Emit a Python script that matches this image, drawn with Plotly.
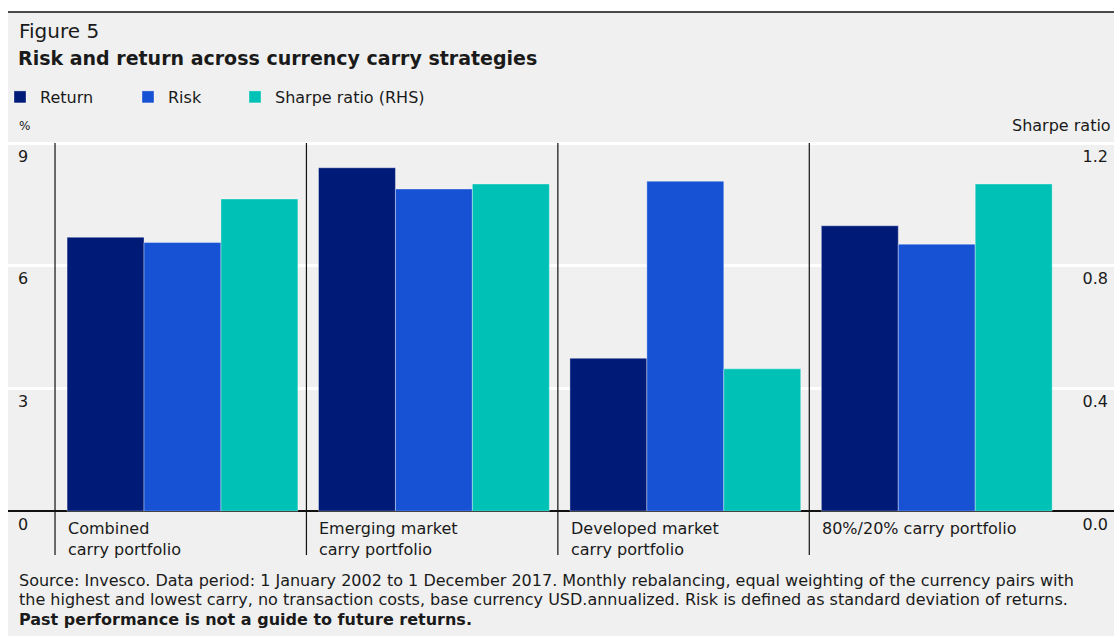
import plotly.graph_objects as go

categories = ["Combined<br>carry portfolio", "Emerging market<br>carry portfolio",
              "Developed market<br>carry portfolio", "80%/20% carry portfolio"]
return_pct = [6.70, 8.40, 3.74, 6.98]
risk_pct = [6.57, 7.88, 8.07, 6.53]
sharpe = [1.018, 1.067, 0.464, 1.067]
left_ticks = [0, 3, 6, 9]
right_ticks = [0.0, 0.4, 0.8, 1.2]
footnote = [
    "Source: Invesco. Data period: 1 January 2002 to 1 December 2017. Monthly rebalancing, equal weighting of the currency pairs with",
    "the highest and lowest carry, no transaction costs, base currency USD.annualized. Risk is defined as standard deviation of returns.",
    "<b>Past performance is not a guide to future returns.</b>",
]

W, H = 1114, 636
L, R, T, B = 8, 0, 142, 84
PW, PH = W - L - R, H - T - B
FONT = "DejaVu Sans"
TXT = "#1a1a1a"
YMIN, YMAX = -1.0, 9.03

def px(x):
    return (x - L) / PW

def py(y):
    return (H - B - y) / PH

xpos = list(range(len(categories)))
bw = 0.306
edge = dict(width=0.8, color="rgba(255,255,255,0.45)")
fig = go.Figure()
fig.add_bar(x=xpos, y=return_pct, name="Return", marker_color="#001a78",
            width=bw, offset=-0.452, marker_line=edge, legend="legend")
fig.add_bar(x=xpos, y=risk_pct, name="Risk", marker_color="#1652d3",
            width=bw, offset=-0.146, marker_line=edge, legend="legend2")
fig.add_bar(x=xpos, y=sharpe, name="Sharpe ratio (RHS)", marker_color="#00c1b5",
            width=bw, offset=0.160, yaxis="y2", marker_line=edge, legend="legend3")

shapes = [
    dict(type="rect", xref="paper", yref="paper", x0=0, x1=1, y0=py(H), y1=py(12),
         fillcolor="#f0f0f0", line_width=0, layer="below"),
    dict(type="line", xref="paper", yref="paper", x0=0, x1=1, y0=py(12), y1=py(12),
         line=dict(color="#111", width=1.5)),
]
for i in range(len(categories)):
    shapes.append(dict(type="line", xref="x", yref="paper", x0=i - 0.5, x1=i - 0.5,
                       y0=py(555), y1=py(143), line=dict(color="#111", width=1.2)))

ann = [
    dict(text="Figure 5", x=px(17), y=py(31), font=dict(size=20, color=TXT)),
    dict(text="<b>Risk and return across currency carry strategies</b>", x=px(16), y=py(58),
         font=dict(size=19, color=TXT)),
    dict(text="%", x=px(17), y=py(126), font=dict(size=12, color=TXT)),
    dict(text="Sharpe ratio", x=px(1113), y=py(126), xanchor="right", font=dict(size=16, color=TXT)),
]
for k, line in enumerate(footnote):
    ann.append(dict(text=line, x=px(17), y=py(580 + 19.5 * k), font=dict(size=16, color=TXT)))
for a in ann:
    a.setdefault("xref", "paper")
    a.setdefault("yref", "paper")
    a.setdefault("xanchor", "left")
    a.setdefault("yanchor", "middle")
    a["showarrow"] = False
    a["align"] = "left"
for i, c in enumerate(categories):
    ann.append(dict(text=c, x=i - 0.5, xref="x", xshift=11, y=py(517), yref="paper",
                    xanchor="left", yanchor="top", showarrow=False, align="left",
                    font=dict(size=16, color=TXT)))

def leg(xpix):
    return dict(orientation="h", x=px(xpix), y=py(80), xanchor="left", yanchor="top",
                bgcolor="rgba(0,0,0,0)", font=dict(size=16, color=TXT), itemclick=False)

fig.update_layout(
    width=W, height=H, margin=dict(l=L, r=R, t=T, b=B, pad=0),
    paper_bgcolor="white", plot_bgcolor="rgba(0,0,0,0)",
    font=dict(family=FONT, size=16, color=TXT),
    barmode="overlay",
    showlegend=True,
    legend=leg(0), legend2=leg(128), legend3=leg(235),
    xaxis=dict(range=[-0.687, 3.712], showticklabels=False, showgrid=False, zeroline=False,
               showline=False, fixedrange=True),
    yaxis=dict(range=[YMIN, YMAX], tickvals=left_ticks, showgrid=True, gridcolor="white", gridwidth=2.5,
               zeroline=True, zerolinecolor="#111", zerolinewidth=1.5, showline=False, ticks="",
               ticklabelposition="inside", ticklabelstandoff=7, ticklabelshift=13,
               tickfont=dict(size=16, color=TXT)),
    yaxis2=dict(range=[YMIN * 1.2 / 9, YMAX * 1.2 / 9], tickvals=right_ticks, tickformat=".1f",
                overlaying="y", side="right", showgrid=False, zeroline=False, showline=False, ticks="",
                ticklabelposition="inside", ticklabelstandoff=3, ticklabelshift=13,
                tickfont=dict(size=16, color=TXT)),
    shapes=shapes, annotations=ann,
)
fig.write_html("out.html")
